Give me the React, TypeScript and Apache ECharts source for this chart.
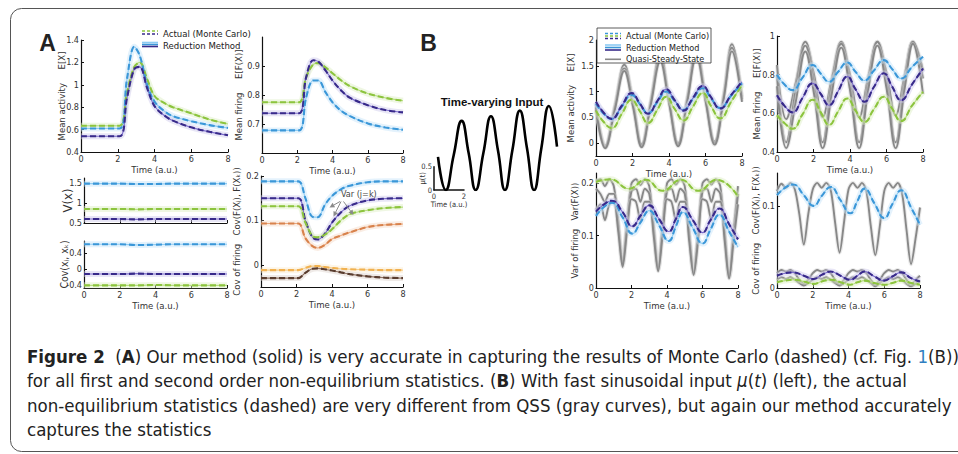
import React, { useEffect, useRef } from "react";
import * as echarts from "echarts";

// ---------------- Panel A data ----------------
const tA = [0, 1, 2.1, 2.5, 2.9, 3.2, 3.6, 4, 4.5, 5, 6, 7, 8];
const a1Blue = [0.61, 0.61, 0.61, 1.05, 1.34, 1.26, 1.0, 0.85, 0.77, 0.72, 0.675, 0.64, 0.615];
const a1Green = [0.635, 0.635, 0.635, 0.93, 1.16, 1.2, 1.05, 0.9, 0.84, 0.8, 0.745, 0.69, 0.65];
const a1Purple = [0.54, 0.54, 0.54, 0.88, 1.14, 1.16, 0.97, 0.81, 0.73, 0.68, 0.62, 0.58, 0.55];

const a2Blue = [0.678, 0.678, 0.678, 0.79, 0.85, 0.85, 0.81, 0.775, 0.745, 0.727, 0.702, 0.688, 0.68];
const a2Green = [0.775, 0.775, 0.775, 0.86, 0.905, 0.91, 0.895, 0.875, 0.85, 0.83, 0.805, 0.79, 0.78];
const a2Purple = [0.737, 0.737, 0.737, 0.86, 0.92, 0.915, 0.885, 0.85, 0.815, 0.79, 0.765, 0.748, 0.74];

const tFlat = [0, 1, 2, 3, 4, 5, 6, 7, 8];
const a3Blue = [1.48, 1.48, 1.48, 1.47, 1.47, 1.48, 1.48, 1.48, 1.48];
const a3Green = [0.85, 0.85, 0.85, 0.84, 0.85, 0.85, 0.85, 0.85, 0.85];
const a3Purple = [0.6, 0.6, 0.6, 0.59, 0.6, 0.6, 0.6, 0.6, 0.6];
const a4Blue = [0.62, 0.62, 0.62, 0.6, 0.61, 0.62, 0.62, 0.62, 0.62];
const a4Purple = [-0.12, -0.12, -0.12, -0.11, -0.12, -0.12, -0.12, -0.12, -0.12];
const a4Green = [-0.4, -0.4, -0.4, -0.4, -0.39, -0.4, -0.4, -0.4, -0.4];

const a5Blue = [0.188, 0.188, 0.188, 0.15, 0.108, 0.107, 0.135, 0.155, 0.17, 0.178, 0.186, 0.188, 0.188];
const a5Purple = [0.15, 0.15, 0.15, 0.1, 0.062, 0.057, 0.07, 0.095, 0.118, 0.133, 0.145, 0.149, 0.15];
const a5Green = [0.132, 0.132, 0.132, 0.095, 0.065, 0.062, 0.068, 0.08, 0.1, 0.114, 0.123, 0.128, 0.13];
const a5Orange = [0.093, 0.093, 0.093, 0.06, 0.042, 0.038, 0.045, 0.058, 0.066, 0.073, 0.085, 0.09, 0.092];
const a5LightOrange = [-0.012, -0.012, -0.012, -0.007, -0.003, -0.003, -0.005, -0.007, -0.009, -0.01, -0.011, -0.012, -0.012];
const a5Brown = [-0.03, -0.03, -0.03, -0.018, -0.009, -0.008, -0.01, -0.013, -0.017, -0.021, -0.026, -0.029, -0.03];

// ---------------- Panel B data ----------------
const tIn = [0, 0.52, 1.05, 1.59, 2.06, 2.53, 3.05, 3.56, 4.03, 4.5, 5.0, 5.5, 5.98, 6.46, 6.95, 7.45, 8.0];
const inputVals = [0.71, 0.0, 0.74, 1.48, 0.79, 0.0, 0.79, 1.58, 0.85, 0.0, 0.85, 1.7, 0.9, 0.0, 0.9, 1.8, 0.93];

const tB = [0, 0.4, 0.85, 1.4, 1.95, 2.4, 2.85, 3.35, 3.85, 4.3, 4.8, 5.3, 5.85, 6.3, 6.8, 7.4, 8];
const b1Blue = [0.77, 0.58, 0.47, 0.7, 0.935, 0.76, 0.58, 0.79, 1.0, 0.82, 0.645, 0.85, 1.065, 0.87, 0.68, 0.92, 1.16];
const b1Purple = [0.8, 0.6, 0.47, 0.72, 0.97, 0.77, 0.57, 0.81, 1.045, 0.84, 0.63, 0.87, 1.11, 0.89, 0.67, 0.93, 1.19];
const b1Green = [0.63, 0.42, 0.29, 0.56, 0.84, 0.62, 0.39, 0.64, 0.9, 0.67, 0.44, 0.7, 0.97, 0.72, 0.48, 0.8, 1.13];

const b2Blue = [0.8, 0.75, 0.72, 0.785, 0.85, 0.805, 0.763, 0.815, 0.863, 0.815, 0.77, 0.82, 0.875, 0.83, 0.78, 0.84, 0.893];
const b2Purple = [0.694, 0.64, 0.605, 0.68, 0.755, 0.7, 0.642, 0.715, 0.79, 0.725, 0.66, 0.735, 0.807, 0.74, 0.668, 0.75, 0.832];
const b2Green = [0.59, 0.55, 0.52, 0.595, 0.67, 0.605, 0.54, 0.61, 0.677, 0.615, 0.555, 0.62, 0.686, 0.625, 0.56, 0.64, 0.711];

const tQ = [0, 0.5, 1.03, 1.55, 2.03, 2.5, 3.0, 3.52, 4.0, 4.5, 5.0, 5.5, 6.0, 6.5, 7.0, 7.45, 8];
const b1Qss1 = [0.75, -0.05, 0.72, 1.52, 0.8, -0.02, 0.82, 1.72, 0.86, 0.0, 0.88, 1.8, 0.9, 0.03, 0.94, 1.92, 0.9];
const b1Qss2 = [0.7, -0.08, 0.68, 1.45, 0.75, -0.05, 0.78, 1.65, 0.82, -0.03, 0.84, 1.75, 0.86, 0.0, 0.9, 1.85, 0.85];
const b1Qss3 = [0.65, -0.1, 0.64, 1.4, 0.7, -0.08, 0.74, 1.58, 0.78, -0.06, 0.8, 1.68, 0.82, -0.03, 0.86, 1.78, 0.8];
const b2Qss1 = [0.85, 0.57, 0.76, 0.97, 0.8, 0.58, 0.78, 0.97, 0.8, 0.58, 0.79, 0.97, 0.81, 0.59, 0.8, 0.97, 0.82];
const b2Qss2 = [0.8, 0.45, 0.72, 0.95, 0.75, 0.45, 0.75, 0.96, 0.76, 0.45, 0.76, 0.97, 0.77, 0.45, 0.77, 0.97, 0.78];
const b2Qss3 = [0.74, 0.42, 0.66, 0.92, 0.7, 0.42, 0.7, 0.94, 0.72, 0.42, 0.72, 0.95, 0.73, 0.42, 0.73, 0.96, 0.7];

const tV = [0, 0.45, 0.9, 1.5, 2.05, 2.5, 3.0, 3.55, 4.1, 4.5, 4.9, 5.45, 6.0, 6.45, 6.95, 7.5, 8];
const b3Blue = [0.138, 0.155, 0.163, 0.135, 0.104, 0.125, 0.148, 0.12, 0.09, 0.118, 0.145, 0.115, 0.085, 0.112, 0.14, 0.108, 0.078];
const b3Purple = [0.146, 0.16, 0.167, 0.145, 0.118, 0.138, 0.158, 0.132, 0.108, 0.132, 0.155, 0.13, 0.106, 0.13, 0.152, 0.122, 0.093];
const tG3 = [0, 0.8, 1.85, 2.8, 3.75, 4.8, 5.75, 6.8, 8];
const b3Green = [0.203, 0.208, 0.19, 0.207, 0.186, 0.207, 0.186, 0.207, 0.175];

const tQ3 = [0, 0.25, 0.5, 0.75, 1.0, 1.25, 1.5, 1.75, 2.0, 2.25, 2.5, 2.75, 3.0, 3.25, 3.5, 3.75, 4.0, 4.25, 4.5, 4.75, 5.0, 5.25, 5.5, 5.75, 6.0, 6.25, 6.5, 6.75, 7.0, 7.25, 7.5, 7.75, 8];
const b3Qss1 = [0.205, 0.208, 0.195, 0.208, 0.195, 0.13, 0.05, 0.13, 0.2, 0.208, 0.197, 0.208, 0.195, 0.12, 0.038, 0.12, 0.2, 0.208, 0.198, 0.208, 0.195, 0.11, 0.03, 0.11, 0.2, 0.208, 0.198, 0.208, 0.195, 0.11, 0.022, 0.11, 0.195];
const b3Qss2 = [0.19, 0.18, 0.165, 0.18, 0.18, 0.12, 0.045, 0.12, 0.185, 0.19, 0.165, 0.19, 0.18, 0.11, 0.035, 0.11, 0.185, 0.19, 0.165, 0.19, 0.18, 0.1, 0.028, 0.1, 0.185, 0.19, 0.165, 0.19, 0.18, 0.1, 0.02, 0.1, 0.18];
const b3Qss3 = [0.15, 0.16, 0.13, 0.16, 0.165, 0.11, 0.04, 0.11, 0.17, 0.165, 0.13, 0.165, 0.165, 0.1, 0.032, 0.1, 0.17, 0.165, 0.13, 0.165, 0.165, 0.09, 0.025, 0.09, 0.17, 0.165, 0.13, 0.165, 0.165, 0.09, 0.018, 0.09, 0.16];

const b4Blue = [0.113, 0.122, 0.126, 0.113, 0.1, 0.112, 0.123, 0.107, 0.091, 0.106, 0.121, 0.103, 0.085, 0.102, 0.119, 0.098, 0.077];
const b4Purple = [0.015, 0.018, 0.019, 0.015, 0.011, 0.016, 0.02, 0.015, 0.01, 0.015, 0.02, 0.014, 0.009, 0.014, 0.019, 0.012, 0.008];
const b4Green = [0.007, 0.009, 0.01, 0.008, 0.005, 0.008, 0.01, 0.007, 0.004, 0.007, 0.009, 0.006, 0.004, 0.006, 0.009, 0.006, 0.004];
const b4Qss1 = [0.118, 0.127, 0.122, 0.128, 0.12, 0.09, 0.053, 0.09, 0.12, 0.128, 0.122, 0.128, 0.12, 0.08, 0.043, 0.08, 0.12, 0.128, 0.122, 0.128, 0.118, 0.075, 0.04, 0.075, 0.118, 0.128, 0.122, 0.128, 0.115, 0.07, 0.029, 0.06, 0.098];
const b4Qss2 = [0.018, 0.022, 0.02, 0.022, 0.018, 0.01, 0.005, 0.01, 0.018, 0.022, 0.02, 0.022, 0.018, 0.01, 0.004, 0.01, 0.018, 0.022, 0.02, 0.022, 0.018, 0.01, 0.004, 0.01, 0.018, 0.022, 0.02, 0.022, 0.018, 0.01, 0.003, 0.01, 0.015];
const b4Qss3 = [0.01, 0.013, 0.011, 0.013, 0.01, 0.006, 0.003, 0.006, 0.01, 0.013, 0.011, 0.013, 0.01, 0.006, 0.003, 0.006, 0.01, 0.013, 0.011, 0.013, 0.01, 0.006, 0.002, 0.006, 0.01, 0.013, 0.011, 0.013, 0.01, 0.005, 0.002, 0.005, 0.009];

// tick labels
const a1Ticks = [0.4, 0.6, 0.8, 1, 1.2, 1.4];
const a2Ticks = [0.7, 0.8, 0.9];
const a3Ticks = [0.5, 1, 1.5];
const a4Ticks = [-0.4, 0, 0.4];
const a5Ticks = [0, 0.1, 0.2];
const b1Ticks = [0, 0.5, 1, 1.5, 2];
const b2Ticks = [0.4, 0.6, 0.8, 1];
const b3Ticks = [0, 0.1, 0.2];
const b4Ticks = [0, 0.1];

// ---------------- styling ----------------
const NARROW = '"DejaVu Sans Condensed", "Liberation Sans Narrow", "Liberation Sans", Arial, sans-serif';
const SANS = '"Liberation Sans", Arial, sans-serif';
const BLUE = { dash: "#3b97d8", solid: "#8ccbf3", band: "#c4e3f8" };
const PURPLE = { dash: "#382a8a", solid: "#7a6bcc", band: "#cdc7ea" };
const GREEN = { dash: "#8cc43e", solid: "#b6dd7e", band: "#dbeec2" };
const ORANGE = { dash: "#d8824c", solid: "#eba87c", band: "#f4d7c3" };
const LORANGE = { dash: "#f1b150", solid: "#f7d08d", band: "#fbe9c9" };
const BROWN = { dash: "#593c2e", solid: "#8f7263", band: "#dcd0c9" };
const GRAY = "#888888";
const TICK = 9;

function zip(t: number[], v: number[]) {
  return t.map((x, i) => [x, v[i]]);
}

function trio(ax: number, t: number[], v: number[], c: any, smooth = 0.35): any[] {
  const base = { type: "line", xAxisIndex: ax, yAxisIndex: ax, data: zip(t, v), smooth, symbol: "none", silent: true };
  return [
    { ...base, lineStyle: { width: 6, color: c.band, opacity: 0.45 }, z: 2 },
    { ...base, lineStyle: { width: 1.1, color: c.solid }, z: 4 },
    { ...base, lineStyle: { width: 2.1, color: c.dash, type: [6, 3] }, z: 5 },
  ];
}

function gray(ax: number, t: number[], v: number[], smooth = 0.4): any[] {
  const base = { type: "line", xAxisIndex: ax, yAxisIndex: ax, data: zip(t, v), smooth, symbol: "none", silent: true };
  return [
    { ...base, lineStyle: { width: 4, color: "#d5d5d5", opacity: 0.5 }, z: 1 },
    { ...base, lineStyle: { width: 1.9, color: GRAY }, z: 1 },
  ];
}

function xAx(grid: number, labels = true, name = true): any {
  return {
    type: "value", gridIndex: grid, min: 0, max: 8, interval: 2,
    axisLine: { show: true, onZero: false, lineStyle: { color: "#111", width: 1.2 } },
    axisTick: { show: true, inside: true, length: 3, lineStyle: { color: "#111" } },
    axisLabel: { show: labels, fontSize: TICK, color: "#333", margin: 2, fontFamily: NARROW },
    splitLine: { show: false },
    name: name ? "Time (a.u.)" : "", nameLocation: "middle", nameGap: 12.5, nameMoveOverlap: false,
    nameTextStyle: { fontSize: 9.5, color: "#333", fontFamily: NARROW },
  };
}

function yAx(grid: number, min: number, max: number, ticks: number[], name: string, gap: number, nameSize = 9.5): any {
  return {
    type: "value", gridIndex: grid, min, max,
    axisLine: { show: true, onZero: false, lineStyle: { color: "#111", width: 1.2 } },
    axisTick: { show: true, inside: true, length: 3, customValues: ticks, lineStyle: { color: "#111" } },
    axisLabel: { show: true, customValues: ticks, fontSize: TICK, color: "#333", margin: 2, fontFamily: NARROW },
    splitLine: { show: false },
    name, nameLocation: "middle", nameGap: gap, nameRotate: 90, nameMoveOverlap: false,
    nameTextStyle: { fontSize: nameSize, color: "#333", fontFamily: NARROW },
  };
}

function legendIcon(x: number, ys: number[], colors: string[], dashed: boolean): any[] {
  return ys.map((y, i) => ({
    type: "line", shape: { x1: x, y1: y, x2: x + 16, y2: y },
    style: { stroke: colors[i], lineWidth: 1.6, lineDash: dashed ? [3, 2] : null },
    z: 50,
  }));
}

function arrow(x1: number, y1: number, x2: number, y2: number): any[] {
  const ang = Math.atan2(y2 - y1, x2 - x1);
  const L = 5, W = 2.5;
  const bx = x2 - L * Math.cos(ang), by = y2 - L * Math.sin(ang);
  const px = -Math.sin(ang) * W, py = Math.cos(ang) * W;
  return [
    { type: "line", shape: { x1, y1, x2: bx, y2: by }, style: { stroke: "#8a8a8a", lineWidth: 1 }, z: 60 },
    { type: "polygon", shape: { points: [[x2, y2], [bx + px, by + py], [bx - px, by - py]] }, style: { fill: "#8a8a8a" }, z: 60 },
  ];
}

const CAPSIZE = 18.5;
const CAP = { fontSize: CAPSIZE, fontFamily: NARROW, fill: "#222" };
const capRich = {
  b: { fontWeight: "bold", fontSize: CAPSIZE, fontFamily: NARROW, fill: "#222" },
  l: { fontSize: CAPSIZE, fontFamily: NARROW, fill: "#2f7fc1" },
  i: { fontStyle: "italic", fontSize: CAPSIZE, fontFamily: NARROW, fill: "#222" },
};
const capLines = [
  "{b|Figure 2}  ({b|A}) Our method (solid) is very accurate in capturing the results of Monte Carlo (dashed) (cf. Fig. {l|1}(B))",
  "for all first and second order non-equilibrium statistics. ({b|B}) With fast sinusoidal input {i|μ}({i|t}) (left), the actual",
  "non-equilibrium statistics (dashed) are very different from QSS (gray curves), but again our method accurately",
  "captures the statistics",
];

export default function App() {
  const ref = useRef<HTMLDivElement>(null);
  useEffect(() => {
    if (!ref.current) return;
    const chart = echarts.init(ref.current, undefined, { renderer: "svg" });

    const grid = [
      { left: 81, top: 40, width: 147, height: 112 },   // 0 A1
      { left: 262, top: 37, width: 141, height: 116 },  // 1 A2
      { left: 84, top: 178, width: 143, height: 45 },   // 2 A3
      { left: 84, top: 241, width: 143, height: 47 },   // 3 A4
      { left: 261, top: 176, width: 142, height: 111 }, // 4 A5
      { left: 438, top: 96.6, width: 119, height: 93.4 }, // 5 input curve
      { left: 434, top: 166.7, width: 30, height: 23.3 }, // 6 input scale
      { left: 596, top: 40, width: 146, height: 116 },  // 7 B1
      { left: 777, top: 36, width: 146, height: 116 },  // 8 B2
      { left: 596, top: 173, width: 142, height: 115 }, // 9 B3
      { left: 777, top: 173, width: 143, height: 115 }, // 10 B4
    ].map((g) => ({ ...g, containLabel: false }));

    const xAxis = [
      xAx(0), xAx(1), xAx(2, false, false), xAx(3), xAx(4),
      { type: "value", gridIndex: 5, min: 0, max: 8, show: false },
      {
        type: "value", gridIndex: 6, min: 0, max: 2, interval: 2,
        axisLine: { show: true, onZero: false, lineStyle: { color: "#111", width: 1.5 } },
        axisTick: { show: false },
        axisLabel: { fontSize: 7.5, color: "#333", margin: 2, fontFamily: NARROW },
        splitLine: { show: false },
        name: "Time (a.u.)", nameLocation: "middle", nameGap: 10, nameMoveOverlap: false,
        nameTextStyle: { fontSize: 7.5, color: "#333", fontFamily: NARROW },
      },
      xAx(7), xAx(8), xAx(9), xAx(10),
    ];
    const yAxis = [
      yAx(0, 0.4, 1.4, a1Ticks, "Mean activity     E[X]", 15),
      yAx(1, 0.6, 1.0, a2Ticks, "Mean firing     E[F(X)]", 19),
      yAx(2, 0.5, 1.62, a3Ticks, "V(x)", 10, 13),
      yAx(3, -0.466, 0.7, a4Ticks, "Cov(xⱼ, xₖ)", 14.5, 10.5),
      yAx(4, -0.05, 0.2, a5Ticks, "Cov of firing   Cov(F(Xⱼ), F(Xₖ))", 19.5),
      { type: "value", gridIndex: 5, min: 0, max: 2, show: false },
      {
        type: "value", gridIndex: 6, min: 0, max: 0.5, interval: 0.5,
        axisLine: { show: true, onZero: false, lineStyle: { color: "#111", width: 1.5 } },
        axisTick: { show: false },
        axisLabel: { fontSize: 7.5, color: "#333", margin: 2, fontFamily: NARROW },
        splitLine: { show: false },
        name: "μ(t)", nameLocation: "middle", nameGap: 8, nameRotate: 90, nameMoveOverlap: false,
        nameTextStyle: { fontSize: 7.5, color: "#333", fontFamily: NARROW },
      },
      yAx(7, -0.25, 2, b1Ticks, "Mean activity     E[X]", 21),
      yAx(8, 0.4, 1, b2Ticks, "Mean firing     E[F(X)]", 15.5),
      yAx(9, 0, 0.22, b3Ticks, "Var of firing   Var(F(X))", 16.5),
      yAx(10, 0, 0.14, b4Ticks, "Cov of firing   Cov(F(Xⱼ), F(Xₖ))", 17),
    ];

    const series: any[] = [
      ...trio(0, tA, a1Green, GREEN), ...trio(0, tA, a1Blue, BLUE), ...trio(0, tA, a1Purple, PURPLE),
      ...trio(1, tA, a2Green, GREEN), ...trio(1, tA, a2Purple, PURPLE), ...trio(1, tA, a2Blue, BLUE),
      ...trio(2, tFlat, a3Blue, BLUE), ...trio(2, tFlat, a3Green, GREEN), ...trio(2, tFlat, a3Purple, PURPLE),
      ...trio(3, tFlat, a4Blue, BLUE), ...trio(3, tFlat, a4Purple, PURPLE), ...trio(3, tFlat, a4Green, GREEN),
      ...trio(4, tA, a5Blue, BLUE), ...trio(4, tA, a5Purple, PURPLE), ...trio(4, tA, a5Green, GREEN),
      ...trio(4, tA, a5Orange, ORANGE), ...trio(4, tA, a5LightOrange, LORANGE), ...trio(4, tA, a5Brown, BROWN),
      {
        type: "line", xAxisIndex: 5, yAxisIndex: 5, data: zip(tIn, inputVals), smooth: 0.5, symbol: "none",
        silent: true, lineStyle: { color: "#000", width: 2.6 },
      },
      ...gray(7, tQ, b1Qss1), ...gray(7, tQ, b1Qss2), ...gray(7, tQ, b1Qss3),
      ...trio(7, tB, b1Green, GREEN, 0.5), ...trio(7, tB, b1Blue, BLUE, 0.5), ...trio(7, tB, b1Purple, PURPLE, 0.5),
      ...gray(8, tQ, b2Qss1), ...gray(8, tQ, b2Qss2), ...gray(8, tQ, b2Qss3),
      ...trio(8, tB, b2Green, GREEN, 0.5), ...trio(8, tB, b2Purple, PURPLE, 0.5), ...trio(8, tB, b2Blue, BLUE, 0.5),
      ...gray(9, tQ3, b3Qss1, 0.3), ...gray(9, tQ3, b3Qss2, 0.3), ...gray(9, tQ3, b3Qss3, 0.3),
      ...trio(9, tG3, b3Green, GREEN, 0.5), ...trio(9, tV, b3Blue, BLUE, 0.5), ...trio(9, tV, b3Purple, PURPLE, 0.5),
      ...gray(10, tQ3, b4Qss1, 0.3), ...gray(10, tQ3, b4Qss2, 0.3), ...gray(10, tQ3, b4Qss3, 0.3),
      ...trio(10, tV, b4Blue, BLUE, 0.5), ...trio(10, tV, b4Purple, PURPLE, 0.5), ...trio(10, tV, b4Green, GREEN, 0.5),
    ];

    const graphic: any[] = [
      { type: "rect", shape: { x: 10.5, y: 8.5, width: 1000, height: 443, r: 11 }, style: { fill: "none", stroke: "#555", lineWidth: 1 }, z: 0, silent: true },
      { type: "text", x: 47.5, y: 43, style: { text: "A", fontSize: 23, fontWeight: "bold", fontFamily: SANS, fill: "#222", align: "center", verticalAlign: "middle" } },
      { type: "text", x: 428.5, y: 43, style: { text: "B", fontSize: 23, fontWeight: "bold", fontFamily: SANS, fill: "#222", align: "center", verticalAlign: "middle" } },
      // A legend
      ...legendIcon(142, [31, 34], [GREEN.dash, PURPLE.dash], true),
      ...legendIcon(142, [42.5, 44.5, 46.5], [BLUE.solid, BLUE.dash, PURPLE.dash], false),
      { type: "text", x: 163, y: 33, style: { text: "Actual (Monte Carlo)", fontSize: 9.5, fontFamily: NARROW, fill: "#222", verticalAlign: "middle" }, z: 50 },
      { type: "text", x: 163, y: 45, style: { text: "Reduction Method", fontSize: 9.5, fontFamily: NARROW, fill: "#222", verticalAlign: "middle" }, z: 50 },
      // B legend
      { type: "rect", shape: { x: 597, y: 28, width: 114, height: 35 }, style: { fill: "#fff", stroke: "#333", lineWidth: 0.8 }, z: 49 },
      ...legendIcon(605, [33.5, 36, 38.5], [BLUE.dash, GREEN.dash, PURPLE.dash], true),
      ...legendIcon(605, [45, 47.5, 50], [BLUE.solid, BLUE.dash, PURPLE.dash], false),
      ...legendIcon(605, [59.3], [GRAY], false),
      { type: "text", x: 626, y: 36, style: { text: "Actual (Monte Carlo)", fontSize: 9, fontFamily: NARROW, fill: "#222", verticalAlign: "middle" }, z: 50 },
      { type: "text", x: 626, y: 47.5, style: { text: "Reduction Method", fontSize: 9, fontFamily: NARROW, fill: "#222", verticalAlign: "middle" }, z: 50 },
      { type: "text", x: 626, y: 59.3, style: { text: "Quasi-Steady-State", fontSize: 9, fontFamily: NARROW, fill: "#222", verticalAlign: "middle" }, z: 50 },
      // input title
      { type: "text", x: 492, y: 101.7, style: { text: "Time-varying Input", fontSize: 11.5, fontWeight: "bold", fontFamily: SANS, fill: "#111", align: "center", verticalAlign: "middle" } },
      // Var annotation
      { type: "text", x: 341, y: 193.5, style: { text: "Var (j=k)", fontSize: 9, fontFamily: NARROW, fill: "#444", verticalAlign: "middle" }, z: 60 },
      ...arrow(340, 201.5, 329.5, 207.5),
      ...arrow(341, 201.5, 333.5, 216.5),
      ...arrow(343.5, 201.5, 353.5, 215),
      // caption
      ...capLines.map((t, i) => ({
        type: "text", x: 27, y: 356 + i * 24.6,
        style: { text: t, rich: capRich, ...CAP, verticalAlign: "middle" },
      })),
    ];

    chart.setOption({
      animation: false,
      backgroundColor: "#fff",
      grid, xAxis, yAxis, series, graphic,
    });
    return () => chart.dispose();
  }, []);
  return <div ref={ref} style={{ position: "fixed", left: 0, top: 0, width: 958, height: 454 }} />;
}
